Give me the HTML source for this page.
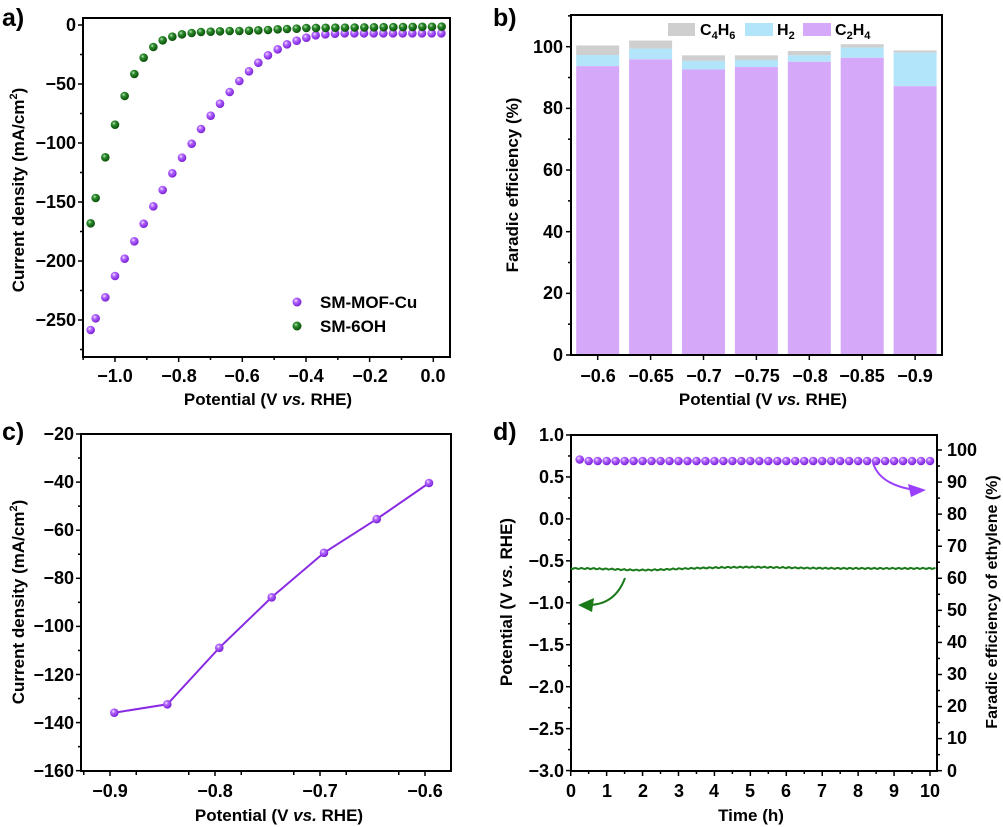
<!DOCTYPE html>
<html><head><meta charset="utf-8"><style>
html,body{margin:0;padding:0;background:#fff;}
svg{display:block;font-family:"Liberation Sans",Arial,sans-serif;font-weight:bold;}
</style></head><body>
<svg id="s" width="1003" height="827" viewBox="0 0 1003 827" xmlns="http://www.w3.org/2000/svg">
<defs>
<radialGradient id="gp" cx="0.38" cy="0.35" r="0.65"><stop offset="0" stop-color="#f3e6ff"/><stop offset="0.35" stop-color="#b266ff"/><stop offset="1" stop-color="#7a1fd6"/></radialGradient>
<radialGradient id="gg" cx="0.38" cy="0.35" r="0.65"><stop offset="0" stop-color="#bfe5bf"/><stop offset="0.35" stop-color="#2a8a2a"/><stop offset="1" stop-color="#0b4f0b"/></radialGradient>
</defs>
<g id="ticks" stroke="#000" stroke-width="1.5"></g>
<!-- Panel a -->
<text x="2" y="26" font-size="25">a)</text>
<rect x="83" y="18" width="367" height="339" fill="none" stroke="#000" stroke-width="2"/>
<g font-size="18" text-anchor="end">
<text x="76" y="31">0</text><text x="76" y="90">−50</text><text x="76" y="149">−100</text><text x="76" y="208">−150</text><text x="76" y="267">−200</text><text x="76" y="326">−250</text>
</g>
<g font-size="18" text-anchor="middle">
<text x="115" y="382">−1.0</text><text x="179" y="382">−0.8</text><text x="242" y="382">−0.6</text><text x="306" y="382">−0.4</text><text x="370" y="382">−0.2</text><text x="433" y="382">0.0</text>
<text x="268" y="405" font-size="17">Potential (V <tspan font-style="italic">vs.</tspan> RHE)</text>
<text transform="translate(24,190) rotate(-90)" font-size="17">Current density (mA/cm<tspan font-size="11" dy="-7">2</tspan><tspan dy="7">)</tspan></text>
</g>
<circle cx="297" cy="302" r="4.5" fill="url(#gp)"/><text x="320" y="308" font-size="17">SM-MOF-Cu</text>
<circle cx="297" cy="326" r="4.5" fill="url(#gg)"/><text x="320" y="332" font-size="17">SM-6OH</text>
<g id="pa"></g>
<!-- Panel b -->
<text x="493" y="26" font-size="25">b)</text>
<g id="bars"></g>
<rect x="571" y="15" width="371" height="340" fill="none" stroke="#000" stroke-width="2"/>
<rect x="668" y="23" width="27" height="13" fill="#cfcfcf"/><text x="700" y="35" font-size="16">C<tspan font-size="11" dy="4">4</tspan><tspan dy="-4">H</tspan><tspan font-size="11" dy="4">6</tspan></text>
<rect x="745" y="23" width="28" height="13" fill="#b3e5fa"/><text x="777" y="35" font-size="16">H<tspan font-size="11" dy="4">2</tspan></text>
<rect x="803" y="23" width="28" height="13" fill="#d6a8fa"/><text x="835" y="35" font-size="16">C<tspan font-size="11" dy="4">2</tspan><tspan dy="-4">H</tspan><tspan font-size="11" dy="4">4</tspan></text>
<g font-size="18" text-anchor="end">
<text x="563" y="361">0</text><text x="563" y="299">20</text><text x="563" y="238">40</text><text x="563" y="176">60</text><text x="563" y="114">80</text><text x="563" y="53">100</text>
</g>
<g font-size="18" text-anchor="middle">
<text x="598" y="382">−0.6</text><text x="651" y="382">−0.65</text><text x="704" y="382">−0.7</text><text x="757" y="382">−0.75</text><text x="810" y="382">−0.8</text><text x="862" y="382">−0.85</text><text x="915" y="382">−0.9</text>
<text x="763" y="405" font-size="17">Potential (V <tspan font-style="italic">vs.</tspan> RHE)</text>
<text transform="translate(518,185) rotate(-90)" font-size="17">Faradic efficiency (%)</text>
</g>
<!-- Panel c -->
<text x="2" y="440" font-size="25">c)</text>
<rect x="81" y="434" width="370" height="337" fill="none" stroke="#000" stroke-width="2"/>
<g font-size="18" text-anchor="end">
<text x="74" y="440">−20</text><text x="74" y="488">−40</text><text x="74" y="536">−60</text><text x="74" y="584">−80</text><text x="74" y="632">−100</text><text x="74" y="681">−120</text><text x="74" y="729">−140</text><text x="74" y="777">−160</text>
</g>
<g font-size="18" text-anchor="middle">
<text x="110" y="797">−0.9</text><text x="215" y="797">−0.8</text><text x="320" y="797">−0.7</text><text x="425" y="797">−0.6</text>
<text x="279" y="821" font-size="17">Potential (V <tspan font-style="italic">vs.</tspan> RHE)</text>
<text transform="translate(24,602) rotate(-90)" font-size="17">Current density (mA/cm<tspan font-size="11" dy="-7">2</tspan><tspan dy="7">)</tspan></text>
</g>
<polyline points="114.3,712.7 167.3,704.3 219.3,647.8 271.7,597.3 324,552.8 376.7,519.1 429,483" fill="none" stroke="#8a2be2" stroke-width="2"/>
<g id="pc"></g>
<!-- Panel d -->
<text x="493" y="440" font-size="25">d)</text>
<rect x="571" y="435" width="366" height="336" fill="none" stroke="#000" stroke-width="2"/>
<g font-size="18" text-anchor="end">
<text x="564" y="441">1.0</text><text x="564" y="483">0.5</text><text x="564" y="525">0.0</text><text x="564" y="567">−0.5</text><text x="564" y="609">−1.0</text><text x="564" y="651">−1.5</text><text x="564" y="693">−2.0</text><text x="564" y="735">−2.5</text><text x="564" y="777">−3.0</text>
</g>
<g font-size="18" text-anchor="start">
<text x="947" y="456">100</text><text x="947" y="488">90</text><text x="947" y="520">80</text><text x="947" y="552">70</text><text x="947" y="584">60</text><text x="947" y="616">50</text><text x="947" y="648">40</text><text x="947" y="680">30</text><text x="947" y="712">20</text><text x="947" y="744">10</text><text x="947" y="777">0</text>
</g>
<g font-size="18" text-anchor="middle">
<text x="571" y="797">0</text><text x="607" y="797">1</text><text x="643" y="797">2</text><text x="679" y="797">3</text><text x="714" y="797">4</text><text x="750" y="797">5</text><text x="786" y="797">6</text><text x="822" y="797">7</text><text x="858" y="797">8</text><text x="894" y="797">9</text><text x="930" y="797">10</text>
<text x="751" y="821" font-size="17">Time (h)</text>
<text transform="translate(512,602) rotate(-90)" font-size="17">Potential (V <tspan font-style="italic">vs.</tspan> RHE)</text>
<text transform="translate(997,602) rotate(-90)" font-size="16">Faradic efficiency of ethylene (%)</text>
</g>
<polyline id="gl" fill="none" stroke="#1a7a1a" stroke-width="2"/>
<g id="pd"></g>
<path d="M873,463 Q880,485 915,490" fill="none" stroke="#9b3fff" stroke-width="2"/>
<polygon points="926,490 908,484 911,497" fill="#9b3fff"/>
<path d="M625,578 Q615,605 588,605" fill="none" stroke="#1a7a1a" stroke-width="2"/>
<polygon points="578,605 594,598 592,612" fill="#1a7a1a"/>
</svg>
<script>
var NS="http://www.w3.org/2000/svg";
function el(p,t,a){var e=document.createElementNS(NS,t);for(var k in a)e.setAttribute(k,a[k]);document.getElementById(p).appendChild(e);return e;}
function ln(x1,y1,x2,y2){el("ticks","line",{x1:x1,y1:y1,x2:x2,y2:y2});}
for(var v=-1.1;v<=0.05;v+=0.1){var x=433.3+v*318.3;var maj=Math.abs(Math.round(v*10))%2==0;ln(x,357,x,357+(maj?5:3));}
for(var v=0;v>=-275;v-=25){var y=25-v*1.18;ln(83,y,83-(v%50==0?5:3),y);}
var P=[[272,990],[287,955],[316,892],[345,828],[374,776],[403,724],[431,671],[460,619],[488,570],[517,520],[546,473],[575,431],[603,387],[632,347],[660,311],[689,276],[718,243],[747,214],[775,188],[804,166],[833,148],[861,133],[890,122],[919,113],[947,106],[976,103],[1005,101]];
for(var x=1034;x<=1340;x+=29)P.push([x,100]);
var G=[[272,670],[287,594],[316,472],[345,374],[374,288],[403,222],[431,173],[460,141],[488,121],[517,110],[546,103],[575,99],[603,96],[632,95],[660,94],[689,93],[718,93],[747,92],[775,91],[804,90],[833,88],[861,87],[890,86]];
for(var x=919;x<=1340;x+=29)G.push([x,84-(x-919)/100]);
P.forEach(function(p){el("pa","circle",{cx:p[0]/3,cy:p[1]/3,r:4.3,fill:"url(#gp)"});});
G.forEach(function(p){el("pa","circle",{cx:p[0]/3,cy:p[1]/3,r:4.3,fill:"url(#gg)"});});
var B=[[93.7,97.3,100.4],[95.9,99.4,102],[92.6,95.4,97.2],[93.4,95.7,97.2],[95.1,97.2,98.6],[96.4,99.7,100.8],[87.2,98.1,98.8]];
function yb(v){return 355-3.083*v;}
B.forEach(function(b,i){var cx=597.7+i*52.9,x=cx-21.5;
el("bars","rect",{x:x,y:yb(b[2]),width:43,height:yb(b[1])-yb(b[2]),fill:"#cfcfcf"});
el("bars","rect",{x:x,y:yb(b[1]),width:43,height:yb(b[0])-yb(b[1]),fill:"#b3e5fa"});
el("bars","rect",{x:x,y:yb(b[0]),width:43,height:355-yb(b[0]),fill:"#d6a8fa"});
ln(cx,355,cx,360);});
for(var v=0;v<=110;v+=10){ln(571,yb(v),571-(v%20==0?5:3),yb(v));}
for(var v=-0.925;v<=-0.575;v+=0.05){var x=425+(v+0.6)*1050;ln(x,771,x,775);}
for(var v=-0.9;v<=-0.6+0.001;v+=0.1){var x=425+(v+0.6)*1050;ln(x,771,x,776);}
for(var v=-20;v>=-160;v-=10){var y=434+(-20-v)*2.405;ln(81,y,81-(v%20==0?5:3),y);}
[[114.3,712.7],[167.3,704.3],[219.3,647.8],[271.7,597.3],[324,552.8],[376.7,519.1],[429,483]].forEach(function(p){el("pc","circle",{cx:p[0],cy:p[1],r:4.3,fill:"url(#gp)"});});
for(var t=0;t<=10;t+=0.5){var x=570.7+t*35.93;ln(x,771,x,771+(t%1==0?5:3));}
for(var v=1;v>=-3;v-=0.25){var y=435+(1-v)*83.9;ln(571,y,571-(Math.abs(v*2-Math.round(v*2))<0.01?5:3),y);}
for(var v=0;v<=100;v+=5){var y=770.7-v*3.207;ln(937,y,937+(v%10==0?5:3),y);}
var pts=[];for(var t=0;t<=10.2;t+=0.05){var x=570.7+t*35.93;var base=-0.59-0.02*Math.exp(-Math.pow((t-2),2))+0.015*Math.exp(-Math.pow((t-5),2)/2);var y=435+(1-base)*83.9+(Math.sin(t*37)*0.6);pts.push(x.toFixed(1)+","+y.toFixed(1));}
document.getElementById("gl").setAttribute("points",pts.join(" "));
for(var t=0.25;t<=10.01;t+=0.25){el("pd","circle",{cx:570.7+t*35.93,cy:t<0.3?459.5:461,r:4.3,fill:"url(#gp)"});}
</script>
</body></html>
